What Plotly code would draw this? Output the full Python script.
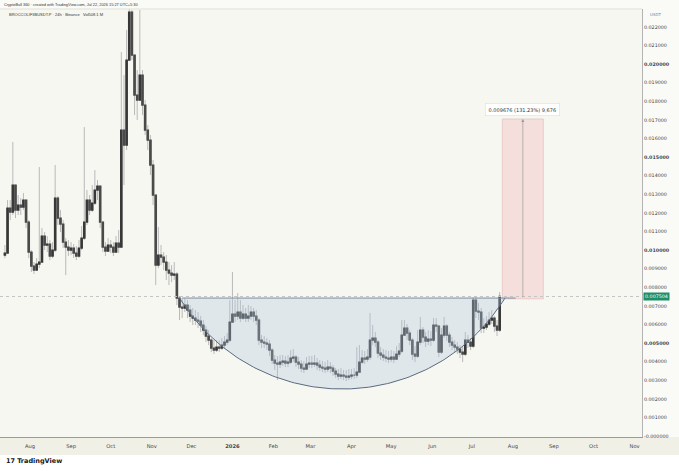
import numpy as np
import pandas as pd
import plotly.graph_objects as go

# 2-day candles, first candle on 2025-07-13
first_day = "2025-07-13"
first_open = 0.009731
close = [
    0.009839, 0.012258, 0.012043, 0.013495, 0.012151, 0.012419, 0.012312, 0.012688, 0.011505, 0.009892,
    0.009140, 0.008925, 0.009247, 0.009355, 0.010753, 0.010269, 0.010323, 0.009677, 0.010000, 0.012796,
    0.011720, 0.011398, 0.010430, 0.010161, 0.010000, 0.010108, 0.009839, 0.009677, 0.010108, 0.010645,
    0.011505, 0.012688, 0.012151, 0.012527, 0.013226, 0.013441, 0.011505, 0.010161, 0.009946, 0.010269,
    0.010161, 0.009892, 0.010376, 0.010161, 0.016452, 0.015645, 0.020215, 0.022796, 0.020484, 0.018333,
    0.018065, 0.019409, 0.017796, 0.016452, 0.015914, 0.014570, 0.012957, 0.009194, 0.009731, 0.009624,
    0.009355, 0.008925, 0.008763, 0.008656, 0.008710, 0.007419, 0.006935, 0.006882, 0.007043, 0.006774,
    0.006452, 0.006344, 0.006237, 0.006183, 0.005968, 0.005699, 0.005376, 0.005161, 0.004731, 0.004624,
    0.004785, 0.004731, 0.004892, 0.005054, 0.005161, 0.006129, 0.006559, 0.006452, 0.006667, 0.006344,
    0.006559, 0.006344, 0.006452, 0.006667, 0.006452, 0.006237, 0.005161, 0.005054, 0.005000, 0.004946,
    0.004624, 0.004086, 0.003925, 0.003871, 0.003978, 0.004032, 0.003925, 0.003978, 0.004194, 0.004247,
    0.003978, 0.003871, 0.003656, 0.003602, 0.003871, 0.003925, 0.003871, 0.003925, 0.003817, 0.003710,
    0.003656, 0.003602, 0.003710, 0.003656, 0.003495, 0.003333, 0.003226, 0.003280, 0.003226, 0.003172,
    0.003226, 0.003280, 0.003280, 0.003441, 0.003978, 0.004194, 0.004140, 0.004247, 0.005161, 0.005269,
    0.005054, 0.004462, 0.004355, 0.004247, 0.004194, 0.004140, 0.004247, 0.004140, 0.004409, 0.004570,
    0.005430, 0.005806, 0.005538, 0.005161, 0.004409, 0.004301, 0.005054, 0.005699, 0.005323, 0.005108,
    0.005215, 0.005161, 0.005968, 0.005914, 0.004516, 0.005430, 0.005914, 0.005430, 0.005054, 0.004892,
    0.004785, 0.004677, 0.004516, 0.004409, 0.005161, 0.005054, 0.004839, 0.007312, 0.006720, 0.006667,
    0.005806, 0.005860, 0.006022, 0.006237, 0.006344, 0.005914, 0.005699, 0.007504,
]
high = [
    0.010269, 0.012688, 0.012688, 0.015806, 0.013495, 0.012957, 0.012796, 0.013065, 0.012688, 0.011613,
    0.010000, 0.009355, 0.009570, 0.014462, 0.011183, 0.010968, 0.010753, 0.010538, 0.010430, 0.014570,
    0.012903, 0.012151, 0.011613, 0.010645, 0.010538, 0.010430, 0.010323, 0.010215, 0.010538, 0.011290,
    0.016613, 0.013226, 0.012957, 0.013495, 0.014301, 0.013763, 0.013441, 0.011505, 0.010430, 0.010645,
    0.010538, 0.010430, 0.010753, 0.011075, 0.020645, 0.019409, 0.021828, 0.022957, 0.022903, 0.019946,
    0.019677, 0.022903, 0.019677, 0.018065, 0.016720, 0.016183, 0.014839, 0.012957, 0.011237, 0.010269,
    0.009892, 0.009731, 0.009355, 0.009194, 0.009355, 0.008817, 0.007527, 0.007419, 0.007419, 0.007312,
    0.007043, 0.006882, 0.006774, 0.006667, 0.006452, 0.006237, 0.005914, 0.005699, 0.005269, 0.005161,
    0.005161, 0.005161, 0.005269, 0.005376, 0.005538, 0.007312, 0.008817, 0.007312, 0.007688, 0.007312,
    0.007043, 0.006882, 0.007043, 0.006989, 0.006882, 0.006774, 0.006344, 0.005430, 0.005376, 0.005269,
    0.005161, 0.004731, 0.004355, 0.004301, 0.004355, 0.004355, 0.004301, 0.004355, 0.004624, 0.004677,
    0.004355, 0.004247, 0.004086, 0.004032, 0.004247, 0.004301, 0.004301, 0.004355, 0.004194, 0.004086,
    0.004032, 0.003978, 0.004086, 0.003978, 0.003817, 0.003656, 0.003602, 0.003656, 0.003548, 0.003548,
    0.003602, 0.003602, 0.003656, 0.004785, 0.004892, 0.004624, 0.004570, 0.004677, 0.006613, 0.005968,
    0.005591, 0.005161, 0.004785, 0.004677, 0.004624, 0.004570, 0.004624, 0.004570, 0.004839, 0.005000,
    0.006237, 0.006237, 0.006022, 0.005699, 0.005269, 0.004839, 0.005699, 0.006398, 0.005860, 0.005591,
    0.005699, 0.005645, 0.006344, 0.006344, 0.005968, 0.005806, 0.006398, 0.006022, 0.005591, 0.005323,
    0.005161, 0.005054, 0.004892, 0.004839, 0.005591, 0.005430, 0.005269, 0.007473, 0.007473, 0.007151,
    0.006882, 0.006344, 0.006452, 0.006667, 0.006774, 0.006452, 0.006237, 0.007742,
]
low = [
    0.009570, 0.010000, 0.011613, 0.011882, 0.011720, 0.011882, 0.011882, 0.012151, 0.011183, 0.009570,
    0.008817, 0.008710, 0.008925, 0.009032, 0.009355, 0.010000, 0.009892, 0.009462, 0.009570, 0.009892,
    0.011344, 0.010968, 0.010108, 0.008656, 0.009677, 0.009731, 0.009570, 0.009462, 0.009570, 0.010000,
    0.010538, 0.011344, 0.011882, 0.012043, 0.012419, 0.012688, 0.011183, 0.009892, 0.009677, 0.009892,
    0.009839, 0.009677, 0.009892, 0.009839, 0.010108, 0.013495, 0.015376, 0.020215, 0.020215, 0.017258,
    0.016989, 0.018065, 0.017258, 0.016183, 0.015376, 0.014032, 0.012419, 0.008118, 0.009032, 0.009194,
    0.008925, 0.008387, 0.008118, 0.008280, 0.008387, 0.007043, 0.006237, 0.006344, 0.006667, 0.006344,
    0.006129, 0.005968, 0.005968, 0.005806, 0.005591, 0.005430, 0.005054, 0.004892, 0.004516, 0.004409,
    0.004516, 0.004516, 0.004624, 0.004731, 0.004892, 0.005054, 0.006129, 0.006129, 0.006237, 0.006129,
    0.006237, 0.006129, 0.006129, 0.006237, 0.006129, 0.005968, 0.004892, 0.004731, 0.004731, 0.004624,
    0.004301, 0.003871, 0.003548, 0.003011, 0.003656, 0.003763, 0.003710, 0.003710, 0.003871, 0.003978,
    0.003710, 0.003602, 0.003441, 0.003387, 0.003656, 0.003656, 0.003656, 0.003710, 0.003548, 0.003495,
    0.003441, 0.003387, 0.003441, 0.003387, 0.003226, 0.003118, 0.003011, 0.003065, 0.003011, 0.002957,
    0.003011, 0.003065, 0.003065, 0.003118, 0.003548, 0.003871, 0.003871, 0.003978, 0.004086, 0.004892,
    0.004785, 0.004194, 0.004086, 0.004032, 0.003978, 0.003925, 0.003978, 0.003925, 0.004086, 0.004247,
    0.004462, 0.005376, 0.005161, 0.004892, 0.004086, 0.003978, 0.004194, 0.004892, 0.005000, 0.004785,
    0.004892, 0.004839, 0.005054, 0.005591, 0.004247, 0.004409, 0.005269, 0.005108, 0.004785, 0.004624,
    0.004516, 0.004409, 0.004194, 0.003978, 0.004301, 0.004731, 0.004624, 0.004731, 0.006344, 0.006237,
    0.005538, 0.005538, 0.005699, 0.005914, 0.006022, 0.005591, 0.005376, 0.005591,
]

last_price = 0.007504

# cup (arc) drawing
cup_left, cup_right = "2025-11-22", "2026-07-26"
cup_rim, cup_floor = 0.00742, 0.00253
rim_line = ["2025-11-24", "2026-08-03"]

# long position target box
box_x = ["2026-07-24", "2026-08-24"]
box_low, box_high = 0.007373, 0.017049
box_label = "0.009676 (131.23%) 9,676"

x_range = ["2025-07-09 07:00", "2026-11-06 14:00"]
y_range = [-0.00005, 0.02296]
plot_w, plot_h = 642, 428

months = pd.date_range("2025-08-01", "2026-11-01", freq="MS")
month_text = [("<b>2026</b>" if m.month == 1 else m.strftime("%b")) for m in months]

y_ticks = [i / 1000 for i in range(0, 23)]
y_text = []
for v in y_ticks:
    s = "-0.000000" if v == 0 else f"{v:.6f}"
    if v > 0 and round(v * 1000) % 5 == 0:
        s = "<b>" + s + "</b>"
    y_text.append(s)

dates = pd.date_range(first_day, periods=len(close), freq="2D")
opens = [first_open] + close[:-1]
hi = [max(h, o, c) for h, o, c in zip(high, opens, close)]
lo = [min(l, o, c) for l, o, c in zip(low, opens, close)]
body_top = [max(o, c) for o, c in zip(opens, close)]
body_bot = [min(o, c) for o, c in zip(opens, close)]

# circular arc in screen space, like the drawing tool
span_days = (pd.Timestamp(x_range[1]) - pd.Timestamp(x_range[0])) / pd.Timedelta(days=1)
px_day = plot_w / span_days
px_val = plot_h / (y_range[1] - y_range[0])
t_left, t_right = pd.Timestamp(cup_left), pd.Timestamp(cup_right)
half_days = (t_right - t_left) / pd.Timedelta(days=1) / 2
mid = t_left + pd.Timedelta(days=half_days)
a = half_days * px_day
s = (cup_rim - cup_floor) * px_val
R = (a * a + s * s) / (2 * s)
tt = np.linspace(-a, a, 120)
depth = np.sqrt(R * R - tt * tt) - (R - s)
arc_x = [mid + pd.Timedelta(days=t / px_day) for t in tt]
arc_y = list(cup_rim - depth / px_val)

fig = go.Figure()

fig.add_trace(go.Scatter(x=arc_x + [arc_x[0]], y=arc_y + [arc_y[0]], fill="toself",
                         fillcolor="rgba(175,198,225,0.32)", line=dict(width=0),
                         mode="lines", hoverinfo="skip"))
fig.add_trace(go.Scatter(x=arc_x, y=arc_y, mode="lines",
                         line=dict(color="#5a6a80", width=1), hoverinfo="skip"))
fig.add_trace(go.Scatter(x=rim_line, y=[cup_rim, cup_rim], mode="lines",
                         line=dict(color="#7d8ca3", width=1), hoverinfo="skip"))

# wicks (light) then bodies (dark)
fig.add_trace(go.Candlestick(x=dates, open=opens, high=hi, low=lo, close=close,
                             increasing=dict(line=dict(color="#b9b9b9", width=1), fillcolor="#b9b9b9"),
                             decreasing=dict(line=dict(color="#b9b9b9", width=1), fillcolor="#b9b9b9"),
                             whiskerwidth=0, hoverinfo="skip"))
fig.add_trace(go.Candlestick(x=dates, open=opens, high=body_top, low=body_bot, close=close,
                             increasing=dict(line=dict(color="#383838", width=1.3), fillcolor="#383838"),
                             decreasing=dict(line=dict(color="#4a4a4a", width=1.3), fillcolor="#4a4a4a"),
                             whiskerwidth=0, hoverinfo="skip"))

box_mid = pd.Timestamp(box_x[0]) + (pd.Timestamp(box_x[1]) - pd.Timestamp(box_x[0])) / 2

shapes = [
    # time axis strip and footer
    dict(type="rect", xref="paper", yref="paper", x0=0, x1=1.06, y0=-0.042, y1=0,
         fillcolor="#f1f0e6", line=dict(width=0), layer="below"),
    dict(type="rect", xref="paper", yref="paper", x0=0, x1=1.06, y0=-0.08, y1=-0.042,
         fillcolor="#ffffff", line=dict(width=0), layer="below"),
    dict(type="line", xref="paper", yref="paper", x0=0, x1=1, y0=1, y1=1,
         line=dict(color="#e3e3dc", width=1)),
    # last price dotted line
    dict(type="line", xref="paper", yref="y", x0=0, x1=1, y0=last_price, y1=last_price,
         line=dict(color="#c4c4c4", width=1, dash="dot")),
    dict(type="rect", xref="x", yref="y", x0=box_x[0], x1=box_x[1], y0=box_low, y1=box_high,
         fillcolor="rgba(240,160,165,0.28)", line=dict(color="rgba(215,150,155,0.6)", width=0.6),
         layer="below"),
]

annotations = [
    dict(xref="paper", yref="paper", x=0.003, y=1.0105, xanchor="left", yanchor="middle",
         text="CryptoBull 360 · created with TradingView.com, Jul 22, 2026 15:27 UTC+5:30",
         showarrow=False, font=dict(size=3.9, color="#333", family="Liberation Sans")),
    dict(xref="paper", yref="paper", x=0.011, y=0.986, xanchor="left", yanchor="middle",
         text="BROCCOLIF3BUSDT.P · 24h · Binance   Vol508.1 M",
         showarrow=False, font=dict(size=4, color="#333", family="Liberation Sans")),
    dict(xref="paper", yref="paper", x=1, y=0.986, xanchor="left", yanchor="middle", xshift=6,
         text="USDT", showarrow=False, font=dict(size=4, color="#888", family="DejaVu Sans")),
    dict(xref="paper", yref="y", x=1, y=last_price, xanchor="left", yanchor="middle", xshift=1,
         text="0.007504", showarrow=False, bgcolor="#1e8f69", borderpad=1,
         font=dict(size=4.8, color="#ffffff", family="DejaVu Sans")),
    dict(x=box_mid, y=box_high, ax=box_mid, ay=box_low, xref="x", yref="y", axref="x", ayref="y",
         text="", showarrow=True, arrowhead=2, arrowsize=0.9, arrowwidth=0.7, arrowcolor="#9c9c9c"),
    dict(x=box_mid, y=box_high, xref="x", yref="y", yshift=9, text=box_label, showarrow=False,
         bgcolor="#ffffff", bordercolor="#dedede", borderwidth=0.6, borderpad=3,
         font=dict(size=5, color="#333", family="DejaVu Sans")),
    dict(xref="paper", yref="paper", x=0.006, y=-0.057, xanchor="left", yanchor="middle",
         text="<b>17</b> <b>TradingView</b>", showarrow=False,
         font=dict(size=6.5, color="#131722", family="DejaVu Sans")),
]

fig.update_layout(
    width=679, height=471,
    margin=dict(l=0, r=37, t=9, b=34),
    paper_bgcolor="#fafaf6", plot_bgcolor="#f7f7f1",
    showlegend=False,
    shapes=shapes, annotations=annotations,
    font=dict(family="DejaVu Sans", size=5, color="#444"),
)
fig.update_xaxes(type="date", range=x_range, rangeslider=dict(visible=False),
                 tickvals=months, ticktext=month_text, showgrid=False, zeroline=False,
                 showline=True, linecolor="#9a9a9a", linewidth=1, ticks="",
                 ticklabelstandoff=4, tickfont=dict(size=5.2, color="#444"))
fig.update_yaxes(side="right", range=y_range, tickvals=y_ticks, ticktext=y_text,
                 showgrid=False, zeroline=False, showline=True, linecolor="#b3b3b3",
                 linewidth=1, ticks="", tickfont=dict(size=4.8, color="#444"))

# page has a default body margin, drop it so the figure sits at the corner
fig.write_html("out.html", config={"displayModeBar": False},
               post_script="document.body.style.margin='0';")
